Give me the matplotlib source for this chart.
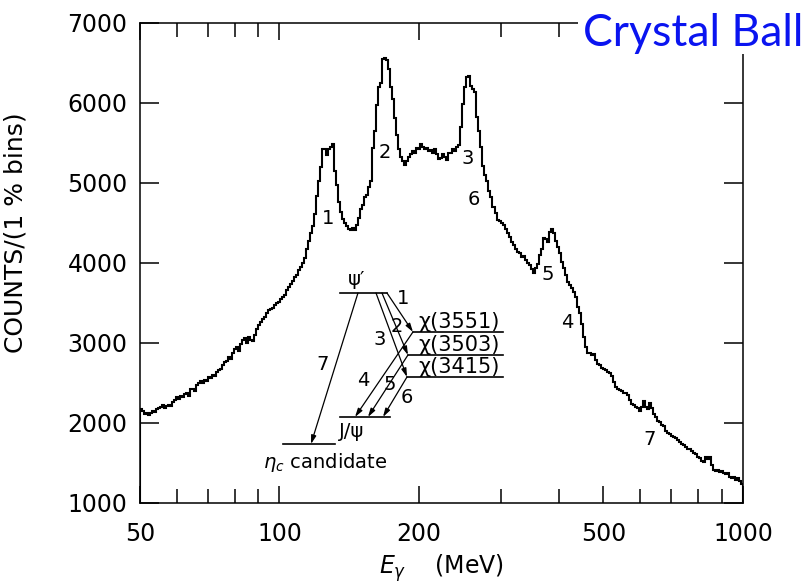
import numpy as np
import matplotlib
matplotlib.use("Agg")
import matplotlib.pyplot as plt
from matplotlib.ticker import FixedLocator, NullFormatter
from matplotlib.patches import Rectangle

# photon spectrum, counts per 1% energy bin starting at 50 MeV
counts = [
    2180, 2150, 2110, 2130, 2100, 2120, 2150, 2140, 2170, 2190,
    2200, 2220, 2190, 2210, 2230, 2210, 2260, 2290, 2320, 2300,
    2340, 2330, 2360, 2380, 2340, 2420, 2430, 2400, 2470, 2500,
    2520, 2500, 2540, 2530, 2570, 2560, 2600, 2590, 2640, 2660,
    2680, 2720, 2760, 2780, 2820, 2800, 2870, 2930, 2950, 2900,
    2990, 3040, 3060, 3000, 3070, 3040, 3020, 3100, 3180, 3220,
    3260, 3300, 3330, 3380, 3410, 3430, 3440, 3470, 3500, 3510,
    3550, 3570, 3600, 3660, 3700, 3740, 3780, 3820, 3850, 3910,
    3950, 4000, 4060, 4180, 4280, 4370, 4460, 4610, 4840, 5020,
    5200, 5420, 5420, 5350, 5420, 5450, 5490, 5150, 4970, 4760,
    4640, 4550, 4500, 4460, 4430, 4410, 4440, 4410, 4480, 4560,
    4680, 4730, 4820, 4850, 4950, 5020, 5440, 5650, 5980, 6200,
    6250, 6550, 6560, 6540, 6420, 6200, 6050, 5810, 5600, 5420,
    5320, 5280, 5220, 5270, 5320, 5360, 5400, 5380, 5440, 5420,
    5490, 5450, 5420, 5440, 5400, 5410, 5380, 5430, 5360, 5300,
    5310, 5360, 5330, 5290, 5380, 5370, 5420, 5400, 5450, 5470,
    5700, 5990, 6200, 6320, 6340, 6210, 6180, 6140, 5830, 5650,
    5450, 5210, 5100, 5020, 4900, 4820, 4700, 4620, 4540, 4520,
    4500, 4480, 4420, 4370, 4320, 4260, 4230, 4170, 4140, 4120,
    4080, 4090, 4040, 4000, 3970, 3930, 3870, 3940, 3990, 4100,
    4170, 4310, 4300, 4260, 4390, 4430, 4380, 4280, 4200, 4130,
    4010, 3940, 3850, 3760, 3720, 3690, 3640, 3570, 3450, 3370,
    3240, 3070, 2950, 2880, 2870, 2850, 2860, 2790, 2740, 2720,
    2690, 2680, 2660, 2640, 2620, 2590, 2510, 2450, 2430, 2410,
    2400, 2380, 2370, 2350, 2290, 2240, 2230, 2200, 2190, 2150,
    2200, 2270, 2200, 2180, 2250, 2190, 2110, 2070, 2030, 2010,
    1980, 1960, 1900, 1870, 1860, 1840, 1820, 1810, 1790, 1760,
    1740, 1730, 1700, 1680, 1670, 1650, 1630, 1610, 1580, 1560,
    1530, 1510, 1580, 1550, 1570, 1470, 1410, 1400, 1410, 1390,
    1400, 1370, 1360, 1370, 1330, 1310, 1320, 1290, 1310, 1270,
    1240,
]
e_start = 50.0
bin_step = 1.01

# transition numbers written next to the peaks (MeV, counts)
peak_names = ["1", "2", "3", "6", "5", "4", "7"]
peak_e = [127, 169, 255, 263, 380, 417, 630]
peak_y = [4560, 5380, 5310, 4790, 3850, 3260, 1790]

xticks = [50, 100, 200, 500, 1000]
xminor = [60, 70, 80, 90, 300, 400, 600, 700, 800, 900]
yticks = [1000, 2000, 3000, 4000, 5000, 6000, 7000]

edges = e_start * bin_step ** np.arange(len(counts) + 1)

fig = plt.figure(figsize=(8.1, 5.88), dpi=100)
ax = fig.add_axes([0.1728, 0.1446, 0.7445, 0.8163])

ax.stairs(counts, edges, color="black", lw=1.5)

ax.set_xscale("log")
ax.set_xlim(50, 1000)
ax.set_ylim(1000, 7000)
ax.xaxis.set_major_locator(FixedLocator(xticks))
ax.xaxis.set_minor_locator(FixedLocator(xminor))
ax.set_xticklabels([str(t) for t in xticks])
ax.xaxis.set_minor_formatter(NullFormatter())
ax.set_yticks(yticks)
ax.set_yticklabels([str(t) for t in yticks])

ax.tick_params(which="both", direction="in", top=True, right=True,
               width=1.1, labelsize=17)
ax.tick_params(axis="y", which="major", length=14, pad=9)
ax.tick_params(axis="x", which="major", length=12, pad=14)
ax.tick_params(axis="x", which="minor", length=10)
for s in ax.spines.values():
    s.set_linewidth(1.1)

ax.set_xlabel(r"$E_\gamma$    (MeV)", fontsize=17, labelpad=4)
ax.set_ylabel("COUNTS/(1 % bins)", fontsize=18)
ax.yaxis.set_label_coords(-0.187, 0.5625)

for name, e, y in zip(peak_names, peak_e, peak_y):
    ax.text(e, y, name, fontsize=14, ha="center", va="center")

# level scheme, drawn in axes fractions
tr = ax.transAxes
levels = {
    "psi2": (0.3317, 0.4096, 0.4375),
    "chi3551": (0.4527, 0.602, 0.3563),
    "chi3503": (0.4444, 0.602, 0.3083),
    "chi3415": (0.4428, 0.602, 0.2625),
    "jpsi": (0.3317, 0.4146, 0.1792),
    "etac": (0.2371, 0.3234, 0.1229),
}
for x0, x1, y in levels.values():
    ax.plot([x0, x1], [y, y], color="black", lw=1.2, transform=tr)

arrows = [
    ((0.3615, 0.4375), (0.2836, 0.1229)),
    ((0.4096, 0.4375), (0.4527, 0.3563)),
    ((0.4013, 0.4375), (0.4444, 0.3083)),
    ((0.3914, 0.4375), (0.4428, 0.2625)),
    ((0.4527, 0.3563), (0.3566, 0.1792)),
    ((0.4444, 0.3083), (0.3781, 0.1792)),
    ((0.4428, 0.2625), (0.4030, 0.1792)),
]
for start, end in arrows:
    ax.annotate("", xy=end, xytext=start, xycoords=tr, textcoords=tr,
                arrowprops=dict(arrowstyle="-|>,head_length=0.5,head_width=0.15",
                                color="black", lw=0.9, shrinkA=0, shrinkB=0))

inset_txt = [
    (0.3599, 0.4646, "ψ′"),
    (0.436, 0.427, "1"),
    (0.426, 0.367, "2"),
    (0.398, 0.340, "3"),
    (0.3035, 0.2875, "7"),
    (0.370, 0.256, "4"),
    (0.4146, 0.246, "5"),
    (0.443, 0.219, "6"),
    (0.3516, 0.148, "J/ψ"),
]
for x, y, s in inset_txt:
    ax.text(x, y, s, fontsize=14, ha="center", va="center", transform=tr)
for y, s in [(0.377, "χ(3551)"), (0.329, "χ(3503)"), (0.283, "χ(3415)")]:
    ax.text(0.461, y, s, fontsize=15, ha="left", va="center", transform=tr)
ax.text(0.204, 0.085, r"$\eta_c$ candidate", fontsize=14, ha="left",
        va="center", transform=tr)

# title box over the top right corner of the frame
fig.patches.append(Rectangle((578 / 810, 1 - 54 / 588), 232 / 810, 54 / 588,
                             transform=fig.transFigure, facecolor="white",
                             edgecolor="none", zorder=2))
fig.text(583 / 810, 1 - 46 / 588, "Crystal Ball", color="#0a14f0",
         fontsize=32, family="Lato", ha="left", va="baseline", zorder=3)

fig.savefig("out.png", dpi=100)
